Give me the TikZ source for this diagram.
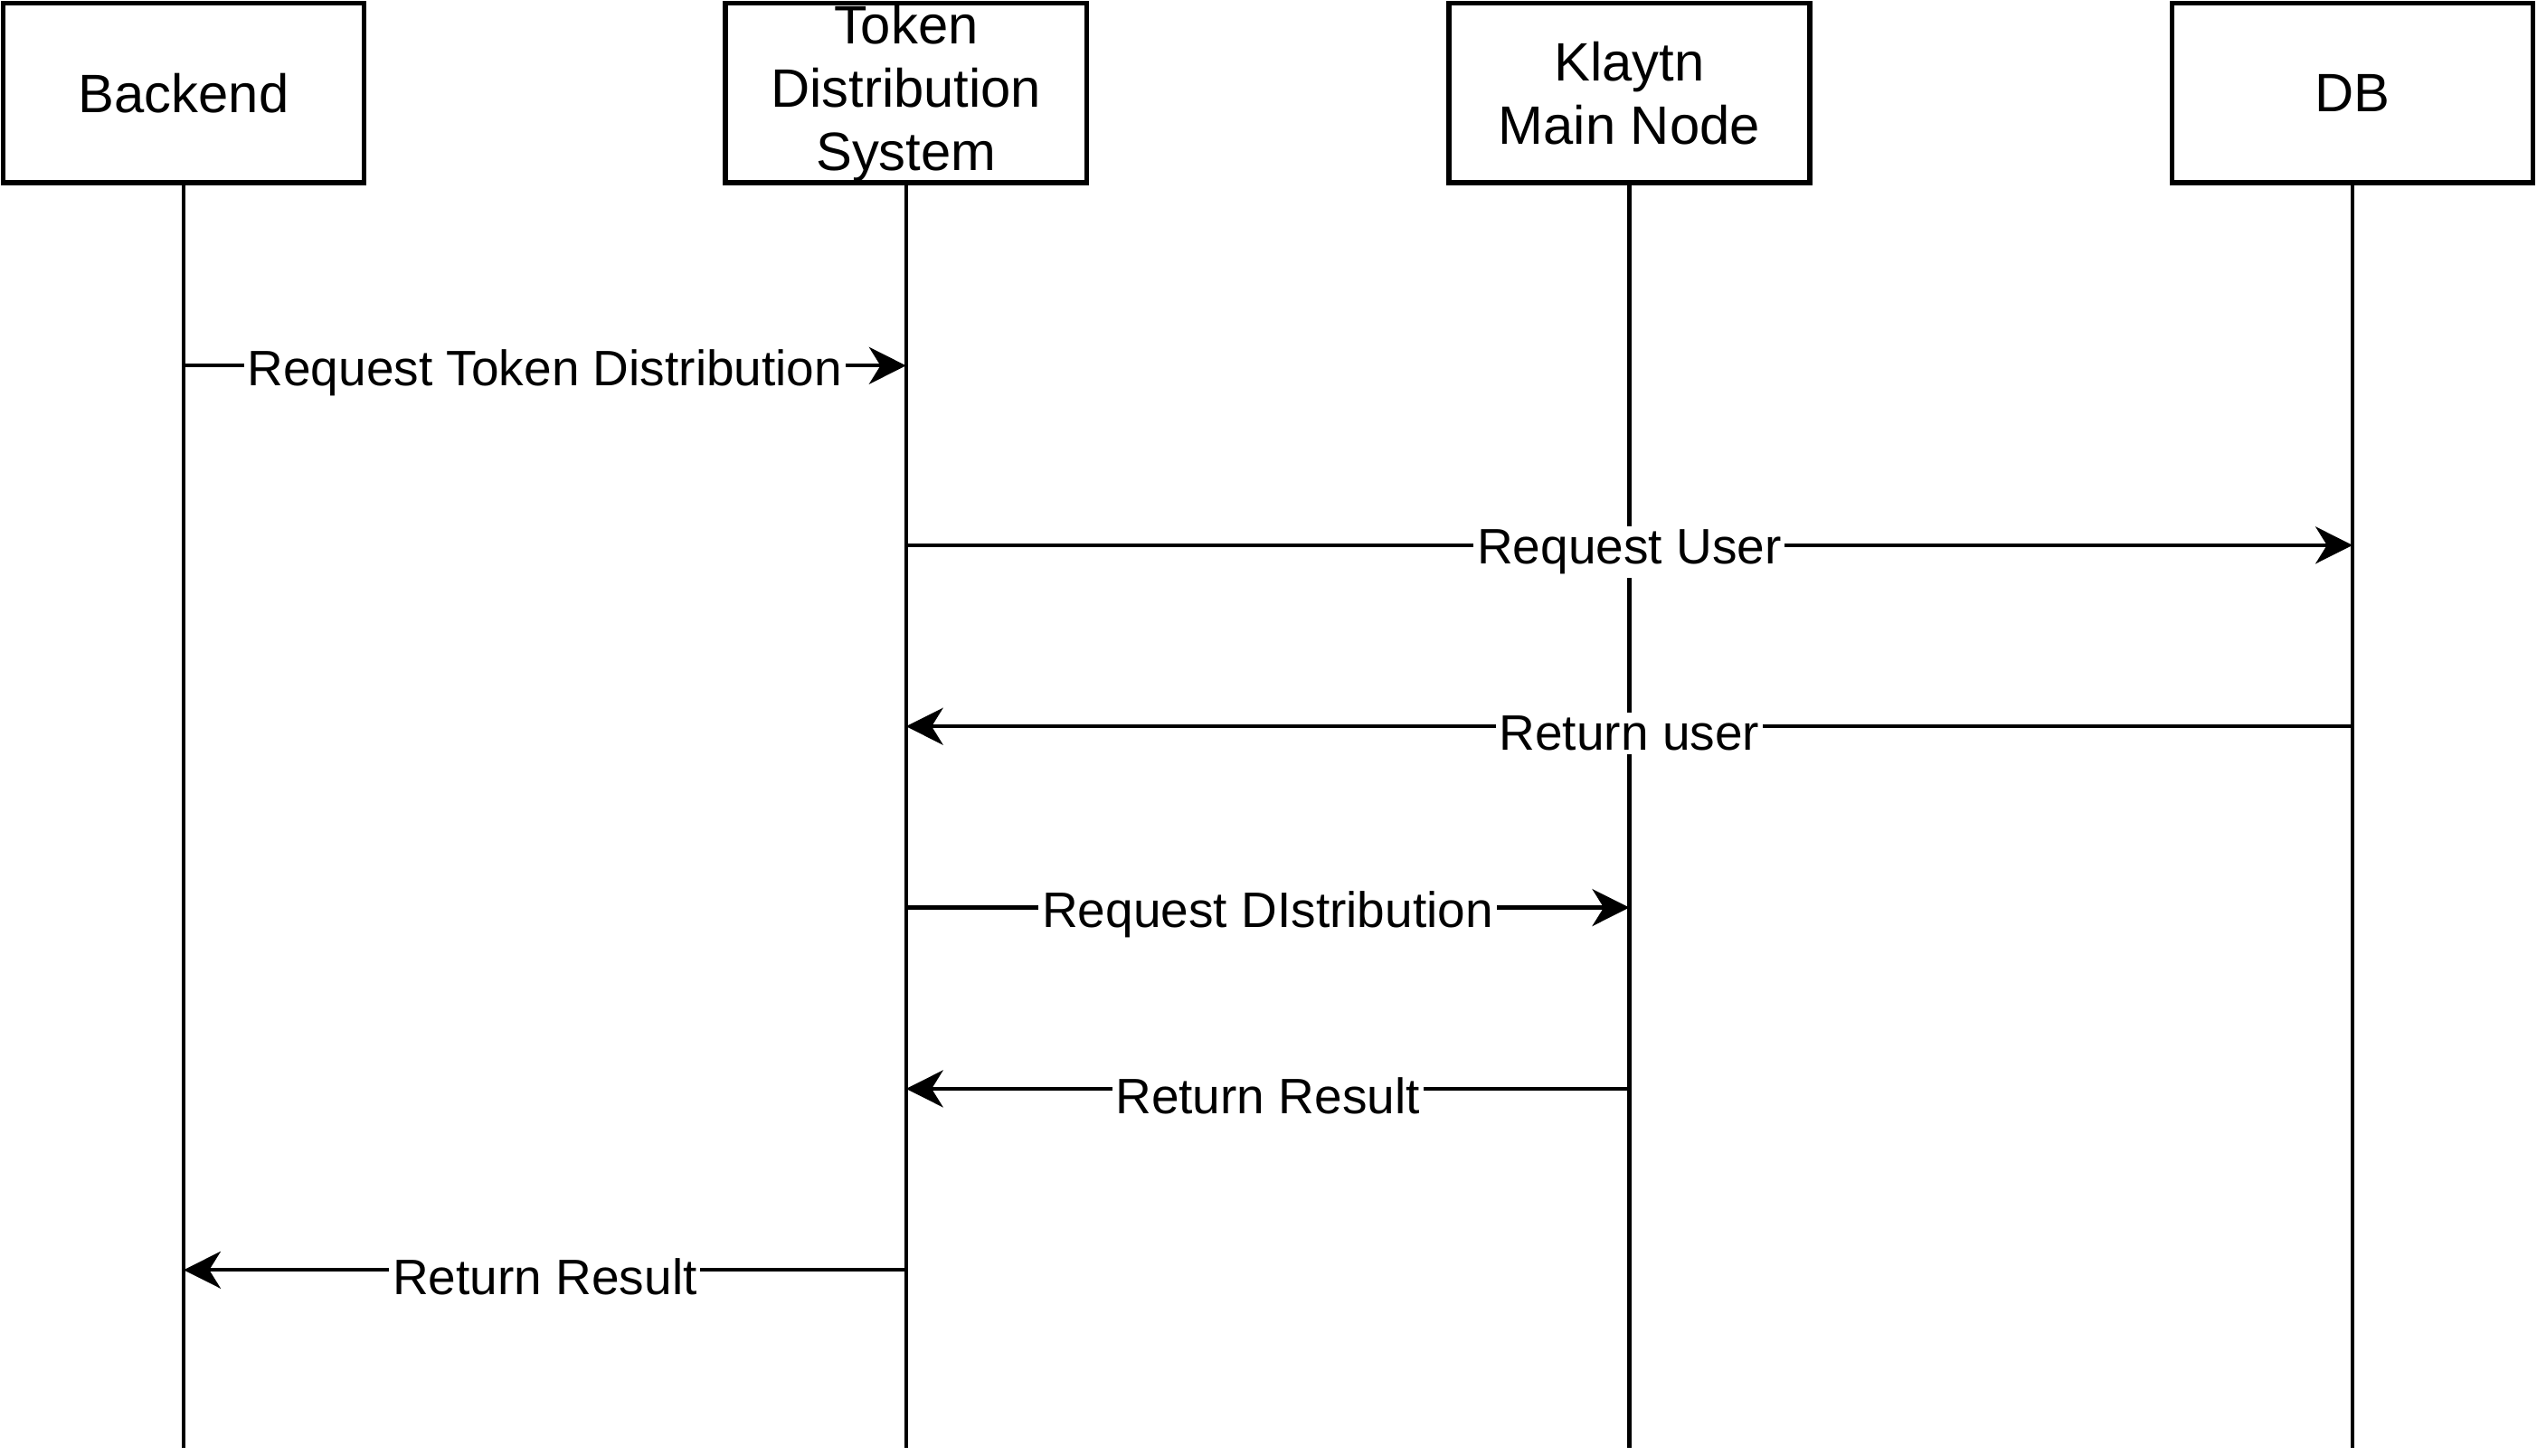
\documentclass[tikz,border=0pt]{standalone}
\usepackage{fontspec}
\setmainfont{Liberation Sans}
\usetikzlibrary{arrows.meta,positioning}

\begin{document}
\begin{tikzpicture}[x=0.01cm,y=-0.01cm,
  actor/.style={rectangle,draw=black,line width=0.9pt,minimum width=2.23cm,minimum height=1.11cm,inner sep=0pt,align=center,font=\fontsize{9.5}{11.1}\selectfont},
  life/.style={line width=0.7pt},
  msg/.style={fill=white,inner sep=0.6pt,yshift=-1.2pt,font=\fontsize{8.75}{11.1}\selectfont},
  >={Stealth[length=6.5pt,width=6.5pt,inset=2pt]}]
  \useasboundingbox (0,0) rectangle (1568,900);
  \node[actor] (be) at (113.5,57.5){Backend};
  \node[actor] (tds) at (560,57.5){Token\\Distribution\\System};
  \node[actor] (kmn) at (1007,57.5){Klaytn\\Main Node};
  \node[actor] (db) at (1454,57.5){DB};
  \coordinate (bot) at (0,895);
     \draw[life] (be) -- (be |- bot);
     \draw[life] (tds) -- (tds |- bot);
     \draw[life] (kmn) -- (kmn |- bot);
     \draw[life] (db) -- (db |- bot);
  \coordinate (m1) at (0,226);
  \coordinate (m2) at (0,337);
  \coordinate (m3) at (0,449);
  \coordinate (m4) at (0,561);
  \coordinate (m5) at (0,673);
  \coordinate (m6) at (0,785);
     \draw[life,->] (be |- m1) -- node[msg]{Request Token Distribution} (tds |- m1);
     \draw[life,->] (tds |- m2) -- node[msg]{Request User} (db |- m2);
     \draw[life,->] (db |- m3) -- node[msg]{Return user} (tds |- m3);
     \draw[life,->] (tds |- m4) -- node[msg]{Request DIstribution} (kmn |- m4);
     \draw[life,->] (kmn |- m5) -- node[msg]{Return Result} (tds |- m5);
     \draw[life,->] (tds |- m6) -- node[msg]{Return Result} (be |- m6);
\end{tikzpicture}
\end{document}
